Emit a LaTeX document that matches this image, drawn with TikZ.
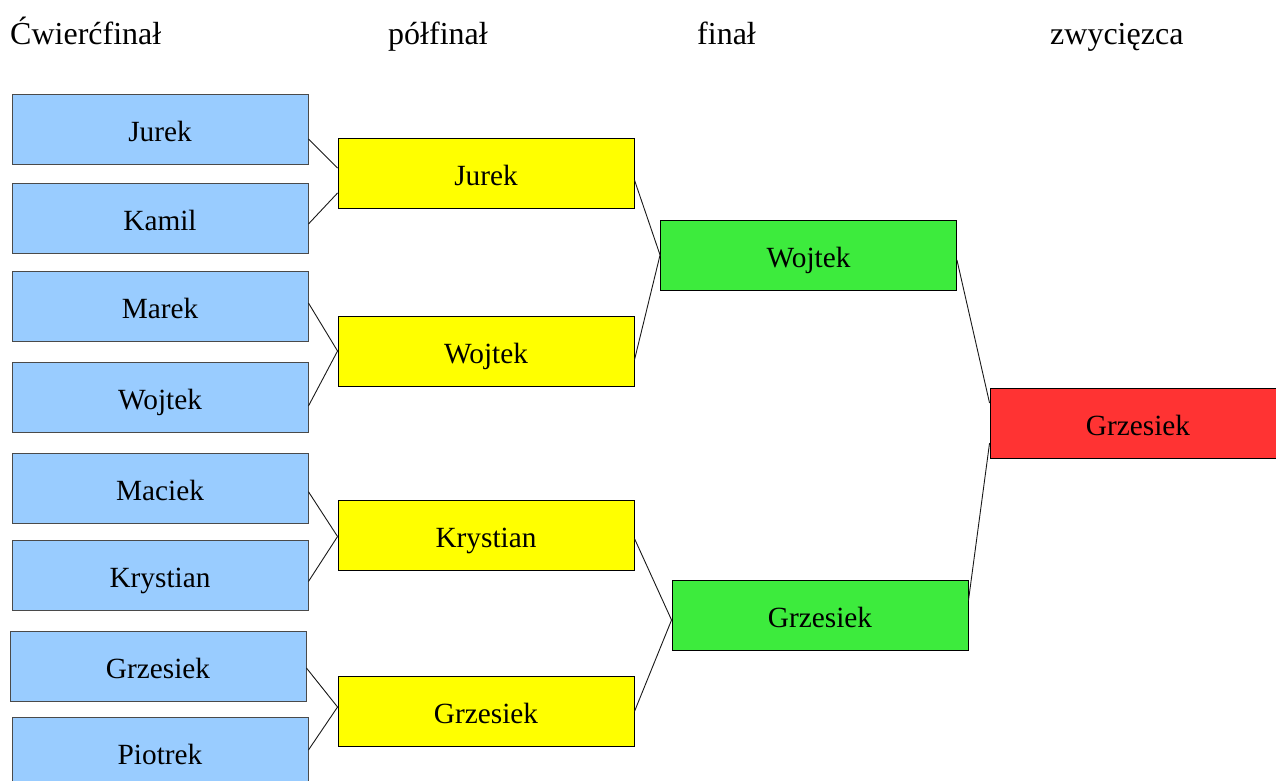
\documentclass[tikz,border=0pt]{standalone}
\usepackage{fontspec}
\setmainfont{Liberation Serif}
\usetikzlibrary{calc}
\definecolor{qblue}{HTML}{99CCFF}
\definecolor{qyellow}{HTML}{FFFF00}
\definecolor{qgreen}{HTML}{3DEB3D}
\definecolor{qred}{HTML}{FF3333}
\definecolor{qedge}{HTML}{4A4A4A}
\tikzset{
  box/.style={rectangle, draw=black, line width=0.9pt, minimum width=296pt, minimum height=70pt, inner sep=0pt, text height=27pt, text depth=3pt, font=\fontsize{29.3}{35}\selectfont},
  qf/.style={box, fill=qblue, draw=qedge},
  sf/.style={box, fill=qyellow},
  ff/.style={box, fill=qgreen},
  wf/.style={box, fill=qred},
  title/.style={anchor=base west, inner sep=0pt, font=\fontsize{32}{38}\selectfont},
  link/.style={draw=black!90, line width=0.9pt}
}
\begin{document}
\begin{tikzpicture}[x=1pt,y=-1pt]
\useasboundingbox (0,0) rectangle (1276,780);
\clip (0,0) rectangle (1276,780);
% titles
\node[title] (t1) at (10,44) {Ćwierćfinał};
\node[title] (t2) at (388,44) {półfinał};
\node[title] (t3) at (697,44) {finał};
\node[title] (t4) at (1050,44) {zwycięzca};
% quarter-finals
\node[qf] (q1) at (160,129.5) {Jurek};
\node[qf] (q2) at (160,218) {Kamil};
\node[qf] (q3) at (160,306) {Marek};
\node[qf] (q4) at (160,397.5) {Wojtek};
\node[qf] (q5) at (160,488) {Maciek};
\node[qf] (q6) at (160,575.5) {Krystian};
\node[qf] (q7) at (158,666) {Grzesiek};
\node[qf] (q8) at (160,752) {Piotrek};
% semi-finals
\node[sf] (s1) at (486,173) {Jurek};
\node[sf] (s2) at (486,351) {Wojtek};
\node[sf] (s3) at (486,535.5) {Krystian};
\node[sf] (s4) at (486,711) {Grzesiek};
% final
\node[ff] (f1) at (808.5,255) {Wojtek};
\node[ff] (f2) at (820,615.5) {Grzesiek};
% winner
\node[wf] (w) at (1138,423) {Grzesiek};
% connectors
\draw[link] ($(q1.east)+(0,9.5)$) -- ($(s1.west)+(0,-5)$);
\draw[link] ($(q2.east)+(0,6)$) -- ($(s1.west)+(0,20)$);
\draw[link] ($(q3.east)+(0,-3)$) -- (s2.west);
\draw[link] ($(q4.east)+(0,8.5)$) -- (s2.west);
\draw[link] ($(q5.east)+(0,3.7)$) -- ($(s3.west)+(0,1)$);
\draw[link] ($(q6.east)+(0,6)$) -- ($(s3.west)+(0,1)$);
\draw[link] ($(q7.east)+(0,2)$) -- ($(s4.west)+(0,-4)$);
\draw[link] ($(q8.east)+(0,-2)$) -- ($(s4.west)+(0,-4)$);
\draw[link] ($(s1.east)+(0,7)$) -- (f1.west);
\draw[link] ($(s2.east)+(0,9)$) -- (f1.west);
\draw[link] ($(s3.east)+(0,3)$) -- ($(f2.west)+(0,4.5)$);
\draw[link] ($(s4.east)+(0,0.5)$) -- ($(f2.west)+(0,4.5)$);
\draw[link] ($(f1.east)+(0,5)$) -- ($(w.west)+(0,-20)$);
\draw[link] ($(f2.east)+(0,-15)$) -- ($(w.west)+(0,20)$);
\end{tikzpicture}
\end{document}
